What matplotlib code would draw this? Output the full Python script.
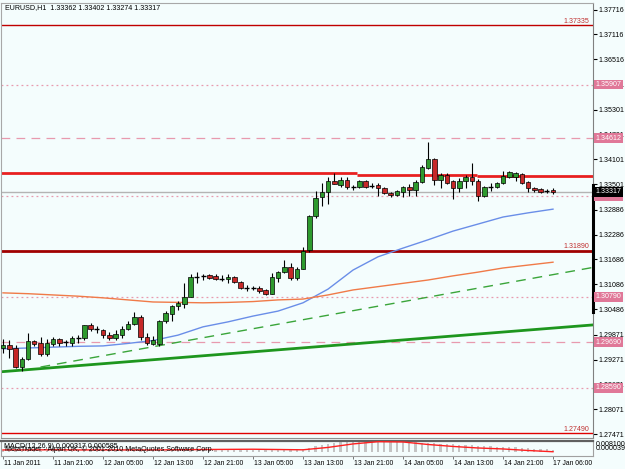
import numpy as np
import matplotlib.pyplot as plt
from matplotlib.transforms import blended_transform_factory

plt.rcParams['font.family'] = ['Liberation Sans', 'DejaVu Sans']

# ---------------- data (EURUSD H1) ----------------
opens = [1.2955, 1.2962, 1.2955, 1.2909, 1.2928, 1.2972, 1.2967, 1.2941, 1.2965, 1.2977,
         1.2970, 1.2967, 1.2979, 1.2979, 1.3011, 1.3001, 1.2998, 1.2986, 1.2979, 1.2986,
         1.3001, 1.3014, 1.3030, 1.2982, 1.2965, 1.2965, 1.3019, 1.3037, 1.3056, 1.3061,
         1.3078, 1.3126, 1.3129, 1.3131, 1.3129, 1.3121, 1.3121, 1.3126, 1.3114, 1.3100,
         1.3100, 1.3100, 1.3095, 1.3085, 1.3124, 1.3138, 1.3150, 1.3124, 1.3146, 1.3191,
         1.3274, 1.3319, 1.3331, 1.3358, 1.3348, 1.3360, 1.3343, 1.3343, 1.3358, 1.3346,
         1.3348, 1.3341, 1.3329, 1.3324, 1.3331, 1.3343, 1.3336, 1.3356, 1.3389, 1.3411,
         1.3360, 1.3372, 1.3358, 1.3341, 1.3358, 1.3368, 1.3358, 1.3322, 1.3343, 1.3343,
         1.3353, 1.3368, 1.3368, 1.3375, 1.3356, 1.3341, 1.3339, 1.3334, 1.33362]
highs = [1.2977, 1.2974, 1.2962, 1.2933, 1.2991, 1.2974, 1.2982, 1.2977, 1.2982, 1.2979,
         1.2974, 1.2984, 1.2986, 1.3011, 1.3016, 1.3009, 1.3001, 1.2994, 1.2998, 1.3009,
         1.3021, 1.3042, 1.3035, 1.2991, 1.2984, 1.3023, 1.3044, 1.3059, 1.3068, 1.3112,
         1.3134, 1.3138, 1.3134, 1.3134, 1.3134, 1.3131, 1.3134, 1.3129, 1.3117, 1.3107,
         1.3105, 1.3105, 1.3097, 1.3136, 1.3141, 1.3167, 1.3160, 1.3150, 1.3199, 1.3276,
         1.3334, 1.3353, 1.3368, 1.3377, 1.3368, 1.3368, 1.3348, 1.3360, 1.3360, 1.3353,
         1.3353, 1.3343, 1.3331, 1.3336, 1.3346, 1.3351, 1.3360, 1.3397, 1.3452, 1.3413,
         1.3377, 1.3377, 1.3360, 1.3365, 1.3372, 1.3401, 1.3363, 1.3346, 1.3353, 1.3356,
         1.3382, 1.3382, 1.3380, 1.3377, 1.3358, 1.3343, 1.3341, 1.3339, 1.33402]
lows = [1.2943, 1.2931, 1.2907, 1.2899, 1.2926, 1.2960, 1.2936, 1.2936, 1.2960, 1.2960,
        1.2960, 1.2960, 1.2967, 1.2974, 1.2996, 1.2991, 1.2979, 1.2974, 1.2974, 1.2979,
        1.2998, 1.3011, 1.2974, 1.2962, 1.2962, 1.2960, 1.3016, 1.3019, 1.3047, 1.3052,
        1.3078, 1.3112, 1.3119, 1.3121, 1.3119, 1.3117, 1.3112, 1.3112, 1.3097, 1.3093,
        1.3095, 1.3088, 1.3083, 1.3085, 1.3114, 1.3136, 1.3119, 1.3119, 1.3146, 1.3187,
        1.3269, 1.3298, 1.3302, 1.3351, 1.3343, 1.3339, 1.3336, 1.3341, 1.3341, 1.3341,
        1.3322, 1.3327, 1.3319, 1.3322, 1.3319, 1.3322, 1.3322, 1.3353, 1.3387, 1.3348,
        1.3341, 1.3351, 1.3315, 1.3331, 1.3341, 1.3348, 1.3310, 1.3319, 1.3334, 1.3341,
        1.3351, 1.3365, 1.3358, 1.3351, 1.3331, 1.3331, 1.3329, 1.3329, 1.33274]
closes = [1.2962, 1.2953, 1.2909, 1.2928, 1.2972, 1.2965, 1.2941, 1.2967, 1.2977, 1.2967,
          1.2970, 1.2979, 1.2979, 1.3011, 1.3001, 1.3001, 1.2986, 1.2979, 1.2989, 1.3001,
          1.3014, 1.3030, 1.2982, 1.2967, 1.2974, 1.3021, 1.3040, 1.3056, 1.3064, 1.3078,
          1.3126, 1.3126, 1.3129, 1.3124, 1.3121, 1.3121, 1.3126, 1.3114, 1.3100, 1.3100,
          1.3100, 1.3093, 1.3085, 1.3126, 1.3138, 1.3150, 1.3124, 1.3146, 1.3189, 1.3274,
          1.3317, 1.3331, 1.3358, 1.3351, 1.3360, 1.3343, 1.3343, 1.3358, 1.3343, 1.3346,
          1.3341, 1.3329, 1.3324, 1.3334, 1.3343, 1.3336, 1.3356, 1.3392, 1.3411, 1.3360,
          1.3372, 1.3353, 1.3341, 1.3358, 1.3368, 1.3358, 1.3322, 1.3343, 1.3343, 1.3353,
          1.3370, 1.3380, 1.3377, 1.3353, 1.3341, 1.3336, 1.3331, 1.3334, 1.33317]

# moving averages, read every 4 bars
ma_bars = list(range(0, 89, 4))
ma_blue = [1.2953, 1.2955, 1.2957, 1.2959, 1.2960, 1.2966, 1.2973, 1.2986, 1.3006, 1.3018,
           1.3032, 1.3044, 1.3064, 1.3097, 1.3143, 1.3175, 1.3196, 1.3216, 1.3237, 1.3254,
           1.3271, 1.3281, 1.3290]
ma_orange = [1.3088, 1.3086, 1.3083, 1.3080, 1.3076, 1.3071, 1.3066, 1.3065, 1.3064, 1.3065,
             1.3067, 1.3071, 1.3073, 1.3083, 1.3095, 1.3103, 1.3111, 1.3119, 1.3129, 1.3138,
             1.3148, 1.3155, 1.3162]

# trend lines: (bar, price) anchors
trend_solid = [(0, 1.2898), (88, 1.3003)]
trend_dashed = [(6, 1.2909), (88, 1.3132)]

# pivot step line
pivot_levels = [1.3377, 1.3373, 1.3370]
pivot_edges = [-0.5, 56.6, 75.8]

# horizontal levels
red_levels = [1.37335, 1.31890, 1.27490]
red_labels = ['1.37335', '1.31890', '1.27490']
pink_dotted = [1.35907, 1.3322, 1.30790, 1.28590]
pink_dashed = [1.34612, 1.29690]
pink_boxes = [1.35907, 1.34612, 1.3322, 1.30790, 1.29690, 1.28590]
pink_box_labels = ['1.35907', '1.34612', '1.33220', '1.30790', '1.29690', '1.28590']
last_price = 1.33317

price_ticks = [1.37716, 1.37116, 1.36516, 1.35901, 1.35301, 1.34701, 1.34101, 1.33501,
               1.32886, 1.32286, 1.31686, 1.31086, 1.30486, 1.29871, 1.29271, 1.28671,
               1.28071, 1.27471]

# MACD
macd_hist = [0.0014, 0.0014, 0.0011, 0.0007, 0.0011, 0.0011, 0.0007, 0.0007, 0.0007, 0.0007,
             0.0007, 0.0007, 0.0007, 0.0011, 0.0011, 0.0011, 0.0011, 0.0011, 0.0011, 0.0011,
             0.0011, 0.0014, 0.0014, 0.0011, 0.0007, 0.0007, 0.0011, 0.0014, 0.0018, 0.0018,
             0.0022, 0.0025, 0.0025, 0.0025, 0.0025, 0.0025, 0.0025, 0.0022, 0.0022, 0.0022,
             0.0018, 0.0018, 0.0018, 0.0014, 0.0018, 0.0022, 0.0022, 0.0022, 0.0025, 0.0032,
             0.0047, 0.0054, 0.0061, 0.0068, 0.0072, 0.0076, 0.0079, 0.0079, 0.0079, 0.0079,
             0.0079, 0.0079, 0.0076, 0.0076, 0.0072, 0.0072, 0.0072, 0.0068, 0.0068, 0.0065,
             0.0061, 0.0061, 0.0058, 0.0054, 0.0054, 0.0050, 0.0047, 0.0043, 0.0043, 0.0040,
             0.0040, 0.0036, 0.0036, 0.0032, 0.0029, 0.0025, 0.0025, 0.0022, 0.0018]
macd_signal = [0.0017, 0.0017, 0.0018, 0.0017, 0.0017, 0.0017, 0.0017, 0.0018, 0.0020, 0.0021,
               0.0022, 0.0020, 0.0018, 0.0035, 0.0060, 0.0076, 0.0074, 0.0056, 0.0042, 0.0031,
               0.0024, 0.0013, 0.0004]

time_bars = list(range(0, 89, 8))
time_labels = ['11 Jan 2011', '11 Jan 21:00', '12 Jan 05:00', '12 Jan 13:00', '12 Jan 21:00',
               '13 Jan 05:00', '13 Jan 13:00', '13 Jan 21:00', '14 Jan 05:00', '14 Jan 13:00',
               '14 Jan 21:00', '17 Jan 06:00']

title = 'EURUSD,H1  1.33362 1.33402 1.33274 1.33317'

# ---------------- figure ----------------
BG = '#f4fdfd'
FS = 5.1
fig = plt.figure(figsize=(6.25, 4.69), dpi=100, facecolor=BG)
ax = fig.add_axes([1 / 625, 1 - 438 / 469, 592 / 625, 435 / 469], facecolor=BG)
axm = fig.add_axes([1 / 625, 1 - 456 / 469, 592 / 625, 15 / 469], facecolor=BG)

XL = (-0.32, 94.4)
ax.set_xlim(*XL)
ax.set_ylim(1.27378, 1.37874)
axm.set_xlim(*XL)
axm.set_ylim(-0.00265, 0.0081)

yblend = blended_transform_factory(ax.transAxes, ax.transData)

# horizontal levels
for lv in pink_dotted:
    ax.axhline(lv, color='#e89aae', lw=0.9, ls=(0, (1.5, 2.5)), zorder=1)
for lv in pink_dashed:
    ax.axhline(lv, color='#e89aae', lw=0.9, ls=(0, (7, 5)), zorder=1)
ax.axhline(last_price, color='#b4b4b4', lw=1, zorder=1)
for lv, lab, lw, c in zip(red_levels, red_labels, [1, 2, 1], ['#c00000', '#a00000', '#e00000']):
    ax.axhline(lv, color=c, lw=lw, zorder=1)
    ax.text(XL[1] - 0.6, lv + 0.0002, lab, ha='right', va='bottom', color='#c03030', fontsize=FS)

# pivot step line
ends = pivot_edges[1:] + [XL[1]]
ax.hlines(pivot_levels, pivot_edges, ends, color='#e82020', lw=2, zorder=2)

# trend lines
ax.axline(trend_solid[0], trend_solid[1], color='#1e961e', lw=2, zorder=2)
(b0, p0), (b1, p1) = trend_dashed
slope = (p1 - p0) / (b1 - b0)
ax.plot([b0, XL[1]], [p0, p0 + slope * (XL[1] - b0)], color='#3aa53a', lw=1,
        ls=(0, (7, 5)), zorder=2)

# moving averages
ax.plot(ma_bars, ma_blue, color='#6a8ee8', lw=1, zorder=2)
ax.plot(ma_bars, ma_orange, color='#f07a48', lw=1, zorder=2)

# candles
x = np.arange(len(opens))
o, h, l, c = map(np.array, (opens, highs, lows, closes))
ax.vlines(x, l, h, color='black', lw=0.8, zorder=3)
up = c > o
dn = c < o
flat = c == o
ax.bar(x[up], (c - o)[up], bottom=o[up], width=0.72, color='#2e9a2e',
       edgecolor='black', lw=0.5, zorder=4)
ax.bar(x[dn], (o - c)[dn], bottom=c[dn], width=0.72, color='#c62828',
       edgecolor='black', lw=0.5, zorder=4)
ax.hlines(o[flat], x[flat] - 0.4, x[flat] + 0.4, color='black', lw=1, zorder=4)

# title
ax.text(0.006, 0.997, title, transform=ax.transAxes, ha='left', va='top', fontsize=FS)

# right price axis
ax.yaxis.tick_right()
ax.set_yticks(price_ticks)
ax.set_yticklabels([f'{t:.5f}' for t in price_ticks])
ax.tick_params(axis='y', labelsize=FS, length=3, width=0.8, pad=1.2, colors='black')
ax.set_xticks([])
for s in ('left', 'top'):
    ax.spines[s].set_color('#a8a8a8')
ax.spines['right'].set_color('#808080')
ax.spines['bottom'].set_color('#909090')

ax.plot([1, 1], [1.3348, 1.3042], transform=yblend, color='black', lw=2.2,
        clip_on=False, zorder=6)

for lv, lab in zip(pink_boxes, pink_box_labels):
    ax.text(1.004, lv, lab, transform=yblend, ha='left', va='center', fontsize=FS,
            color='white', clip_on=False, zorder=7,
            bbox=dict(boxstyle='square,pad=0.2', fc='#e07898', ec='none'))
ax.text(1.004, last_price, f'{last_price:.5f}', transform=yblend, ha='left', va='center',
        fontsize=FS, color='white', clip_on=False, zorder=8,
        bbox=dict(boxstyle='square,pad=0.2', fc='black', ec='none'))

# ---------------- MACD window ----------------
axm.bar(x, macd_hist, width=0.35, color='#c4c4c4', zorder=2)
axm.plot(ma_bars, macd_signal, color='#ff2020', lw=1, zorder=3)
axm.text(0.005, 0.65, 'MACD(12,26,9) 0.000317 0.000585', transform=axm.transAxes,
         ha='left', va='center', fontsize=FS, zorder=5)
axm.text(0.007, 0.45, 'MetaTrader - Alpari UK, \u00a9 2001-2010 MetaQuotes Software Corp.',
         transform=axm.transAxes, ha='left', va='center', fontsize=FS, zorder=5)
axm.set_yticks([])
axm.set_xticks(time_bars)
axm.set_xticklabels([])
axm.tick_params(axis='x', length=2, width=0.6, colors='#606060')
mblend = blended_transform_factory(axm.transAxes, axm.transData)
axm.text(1.004, 0.0081, '0.008100', transform=mblend, ha='left', va='top', fontsize=FS,
         clip_on=False)
axm.text(1.004, 0.0026, '0.000039', transform=mblend, ha='left', va='center', fontsize=FS,
         clip_on=False)
axm.spines['top'].set_color('#606060')
axm.spines['top'].set_linewidth(1.6)
for s in ('left', 'right', 'bottom'):
    axm.spines[s].set_color('#a0a0a0')

tblend = blended_transform_factory(axm.transData, fig.transFigure)
for b, lab in zip(time_bars[:-1], time_labels[:-1]):
    fig.text(b + 0.1, 1 - 463 / 469, lab, transform=tblend, ha='left', va='center', fontsize=4.9)
fig.text(XL[1] - 0.1, 1 - 463 / 469, time_labels[-1], transform=tblend, ha='right',
         va='center', fontsize=4.9)

fig.savefig('out.png', dpi=100, facecolor=BG)
